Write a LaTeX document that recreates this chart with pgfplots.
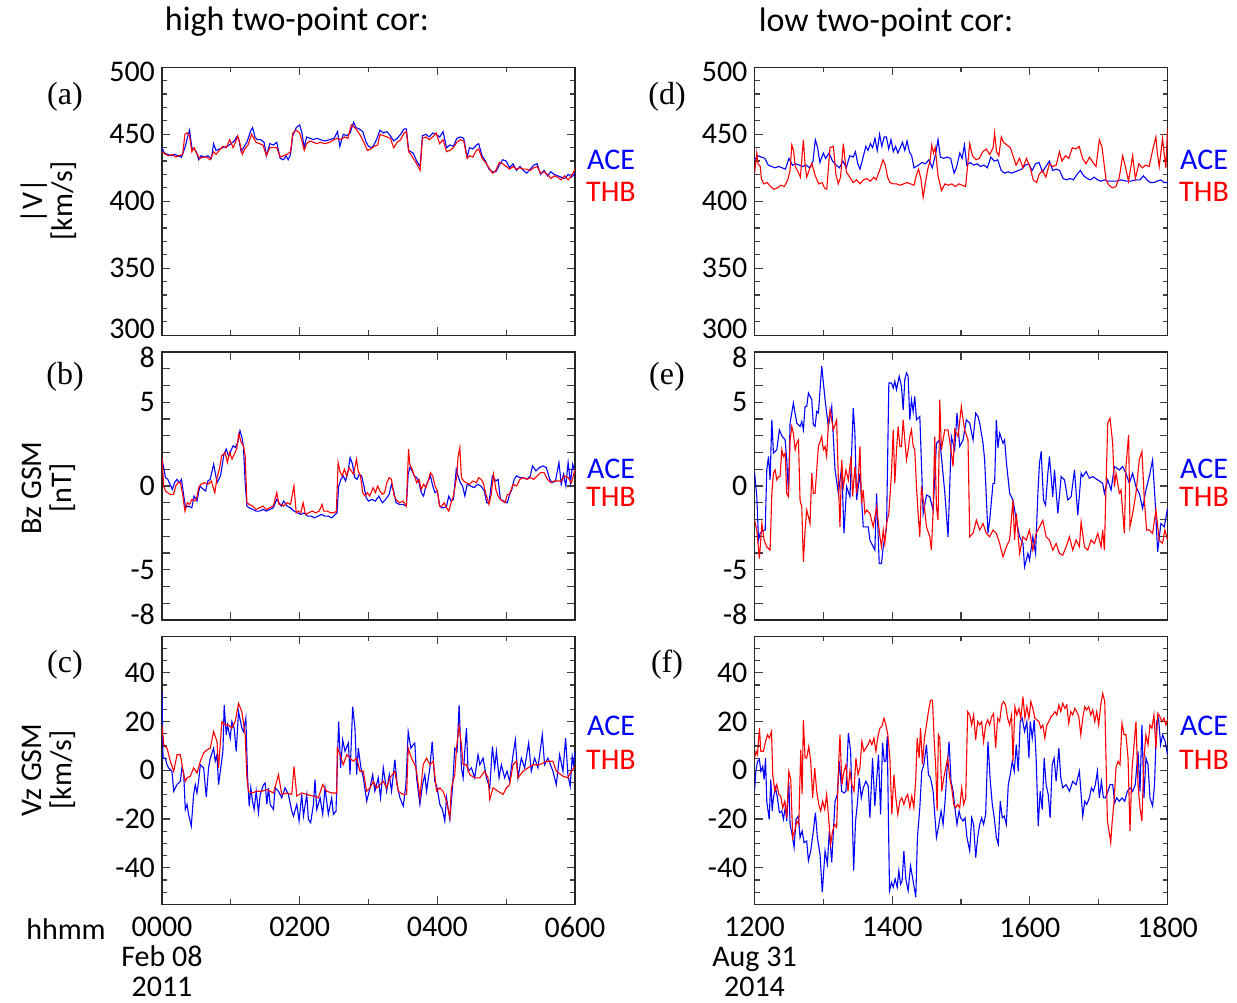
\documentclass[border=0pt]{standalone}
\usepackage{fontspec}
\setmainfont{Carlito}
\newfontfamily\seriffont{Liberation Serif}
\usepackage{pgfplots}
\pgfplotsset{compat=1.18}
\definecolor{ace}{RGB}{0,0,255}
\definecolor{thb}{RGB}{255,0,0}
\newcommand{\fs}{\fontsize{15}{15}\selectfont}
\newcommand{\up}[1]{\raisebox{3pt}[\height][\depth]{#1}}
\newcommand{\dn}[1]{\raisebox{-2.5pt}[\height][\depth]{#1}}
\pgfplotsset{
  panel/.style={scale only axis, width=206.5pt, height=134pt, anchor=south west,
    axis line style={line width=0.6pt, black!85}, tick align=inside,
    major tick length=4pt, minor tick length=2.5pt,
    every tick/.style={line width=0.6pt, black!75},
    xmin=0, xmax=360, xtick={0,120,240,360}, minor xtick={60,180,300},
    ticklabel style={font=\fs}, clip=true},
  vpanel/.style={panel, ymin=300, ymax=500, ytick={300,350,400,450,500},
    yticklabels={\up{300},350,400,450,\dn{500}}, minor ytick={310,320,...,490}},
  bpanel/.style={panel, ymin=-8, ymax=8, ytick={-8,-5,0,5,8},
    yticklabels={\up{-8},-5,0,5,\dn{8}}, minor ytick={-7,-6,-4,-3,-2,-1,1,2,3,4,6,7}, minor tick length=4pt},
  wpanel/.style={panel, ymin=-55, ymax=55, ytick={-40,-20,0,20,40},
    yticklabels={-40,-20,0,20,40}, minor ytick={-50,-45,...,50},
    xticklabel style={align=center, font=\fontsize{15}{15}\selectfont, yshift=-3pt}},
  aceline/.style={color=ace, line width=0.55pt, no marks},
  thbline/.style={color=thb, line width=0.55pt, no marks},
}
\begin{document}
\begin{tikzpicture}
\useasboundingbox (0,0) rectangle (618.5pt,501pt);
% titles
\node[font=\fontsize{17}{17}\selectfont] at (148.5pt,490pt) {high two-point cor:};
\node[font=\fontsize{17}{17}\selectfont] at (443pt,490pt) {low two-point cor:};
% y labels
\node[font=\fs, rotate=90, align=center] at (24.5pt,400.5pt) {|V|\\{}[km/s]};
\node[font=\fs, rotate=90, align=center] at (24.5pt,257pt) {Bz GSM\\{}[nT]};
\node[font=\fs, rotate=90, align=center] at (24.5pt,116pt) {Vz GSM\\{}[km/s]};
% panel letters
\node[font=\seriffont\fontsize{16}{16}\selectfont] at (32.5pt,452.5pt) {(a)};
\node[font=\seriffont\fontsize{16}{16}\selectfont] at (32.5pt,312.5pt) {(b)};
\node[font=\seriffont\fontsize{16}{16}\selectfont] at (32.5pt,168.5pt) {(c)};
\node[font=\seriffont\fontsize{16}{16}\selectfont] at (333.5pt,452.5pt) {(d)};
\node[font=\seriffont\fontsize{16}{16}\selectfont] at (333.5pt,312.5pt) {(e)};
\node[font=\seriffont\fontsize{16}{16}\selectfont] at (333.5pt,168.5pt) {(f)};
% ACE / THB labels
\foreach \xx in {305.5pt,602pt}{
  \node[font=\fs, text=ace] at (\xx,421pt) {ACE};
  \node[font=\fs, text=thb] at (\xx,405pt) {THB};
  \node[font=\fs, text=ace] at (\xx,266.5pt) {ACE};
  \node[font=\fs, text=thb] at (\xx,252.5pt) {THB};
  \node[font=\fs, text=ace] at (\xx,138pt) {ACE};
  \node[font=\fs, text=thb] at (\xx,121pt) {THB};
}
\node[font=\fs] at (33pt,36.5pt) {hhmm};

% ---------------- (a)
\begin{axis}[vpanel, at={(81pt,333.35pt)}, xticklabels={}]
\addplot[aceline] coordinates {(0,440)(2,436)(5,435)(8,434)(11,435)(14,434)(17,433)(20,440)(22,447)(24,453)(26,440)(28,439)(30,437)(32,431)(34,434)(37,433)(40,434)(43,432)(45,443)(47,438)(50,439)(53,440)(57,441)(60,443)(63,445)(65,448)(67,446)(69,437)(71,440)(74,444)(77,452)(79,455)(81,448)(83,446)(86,446)(89,444)(91,434)(94,443)(97,442)(100,444)(103,432)(106,431)(108,434)(110,431)(112,435)(114,449)(117,455)(120,457)(122,451)(124,440)(126,448)(129,447)(132,446)(135,447)(138,446)(142,445)(146,446)(150,447)(153,452)(155,441)(158,450)(161,449)(164,451)(167,459)(169,455)(172,454)(175,452)(178,444)(180,441)(182,440)(184,441)(187,446)(190,453)(193,451)(196,452)(199,449)(202,445)(205,447)(208,450)(211,454)(213,454)(215,438)(217,437)(219,436)(222,430)(225,426)(227,449)(230,450)(233,448)(236,451)(239,450)(242,448)(245,452)(248,440)(251,442)(254,441)(257,447)(260,448)(263,447)(266,433)(268,440)(271,439)(274,442)(276,443)(279,434)(282,430)(285,424)(288,422)(291,422)(294,427)(297,431)(300,430)(303,425)(306,428)(309,423)(312,426)(315,423)(318,421)(321,424)(324,427)(327,428)(330,420)(333,423)(336,419)(339,422)(342,420)(345,419)(348,418)(351,417)(354,420)(357,418)(360,421)};
\addplot[thbline] coordinates {(0,437)(3,435)(6,434)(9,435)(12,433)(15,434)(18,435)(20,450)(22,451)(24,449)(26,437)(28,440)(30,436)(33,432)(36,433)(39,433)(42,431)(45,437)(47,435)(50,438)(53,441)(56,440)(59,446)(62,440)(64,444)(66,449)(68,443)(70,435)(72,439)(75,442)(78,450)(80,447)(82,444)(85,443)(88,442)(91,434)(94,440)(97,440)(100,440)(103,433)(106,434)(109,435)(112,437)(114,451)(117,453)(120,451)(122,445)(124,438)(126,443)(129,445)(132,444)(135,443)(138,444)(142,443)(146,444)(150,446)(153,447)(156,446)(159,448)(162,447)(165,457)(167,456)(170,453)(173,449)(176,444)(179,438)(182,439)(185,441)(188,442)(190,450)(193,449)(196,448)(199,447)(202,440)(205,444)(208,446)(211,451)(213,452)(215,437)(217,435)(219,432)(222,428)(225,423)(227,447)(230,448)(233,446)(236,448)(239,451)(242,443)(245,446)(248,437)(251,438)(254,440)(257,444)(260,446)(263,445)(266,432)(268,434)(271,433)(274,438)(276,439)(279,432)(282,429)(285,425)(288,421)(291,423)(294,429)(297,428)(300,426)(303,424)(306,426)(309,424)(312,425)(315,424)(318,424)(321,423)(324,425)(327,426)(330,421)(333,422)(336,420)(339,417)(342,419)(345,418)(348,416)(351,419)(354,416)(357,419)(360,424)};
\end{axis}

% ---------------- (d)
\begin{axis}[vpanel, at={(377.25pt,333.35pt)}, xticklabels={}]
\addplot[aceline] coordinates {(0,431)(3,434)(6,433)(9,432)(12,427)(15,426)(18,425)(21,426)(24,425)(27,424)(30,432)(33,427)(36,428)(39,427)(42,426)(45,427)(48,425)(51,430)(53,446)(55,440)(57,429)(60,436)(62,432)(65,436)(68,430)(71,427)(74,425)(77,430)(80,425)(83,434)(86,433)(88,437)(90,428)(92,424)(95,434)(97,441)(99,438)(101,443)(103,440)(105,447)(107,438)(109,450)(111,441)(113,448)(115,448)(117,439)(119,446)(121,437)(123,441)(125,436)(127,440)(129,444)(131,438)(133,445)(135,437)(137,434)(139,425)(141,426)(143,427)(146,429)(149,428)(152,431)(155,425)(158,436)(160,446)(162,433)(165,432)(168,433)(171,432)(174,421)(176,425)(179,436)(181,432)(183,442)(185,427)(188,429)(191,427)(194,428)(197,426)(200,427)(203,425)(206,433)(209,430)(212,431)(215,423)(218,421)(221,422)(224,421)(227,422)(230,423)(233,424)(236,427)(239,428)(242,423)(245,428)(248,429)(251,422)(254,426)(257,430)(260,423)(263,424)(266,423)(269,417)(272,416)(275,417)(278,416)(281,420)(284,423)(287,419)(290,417)(293,416)(296,418)(299,416)(302,415)(305,416)(308,415)(312,415)(316,415)(320,416)(324,415)(328,415)(332,416)(336,416)(339,419)(342,416)(345,414)(348,414)(351,415)(354,416)(357,414)(360,414)};
\addplot[thbline] coordinates {(0,421)(1,428)(2,436)(3,428)(5,426)(6,417)(8,413)(11,414)(14,411)(17,409)(20,410)(23,412)(26,411)(29,416)(31,423)(32.5,442)(34,438)(35.5,426)(38,422)(40,418)(42.6,446)(44,428)(45.5,418)(48,424)(50,428)(53,419)(56,413)(59,414)(61,410)(63,409)(65.8,440)(68.7,441)(71,420)(73,413)(75,418)(77.4,443)(80,422)(83,418)(86,414)(89,416)(92,413)(95,416)(98,417)(101,415)(104,418)(106,416)(109,423)(112,431)(114,427)(116,418)(118,414)(121,413)(124,413)(127,412)(130,413)(133,414)(136,413)(139,412)(141,419)(143,424)(145,417)(147,403)(149,414)(151,424)(153,430)(154.5,442)(156,436)(157.5,440)(160,419)(163,408)(166,413)(169,412)(172,413)(175,411)(178,413)(181,412)(184,411)(187.6,443)(190,434)(193,431)(196,432)(199,437)(202,439)(205,435)(208,440)(209.3,451)(211,437)(213,434)(215.1,448)(217,444)(220,442)(223,440)(225,435)(228,427)(231,432)(234,425)(237,432)(240,426)(243,416)(246,414)(248,420)(251,423)(254,418)(257,428)(260,426)(263,427)(265.8,437)(268,430)(271,434)(274,432)(277,440)(280,439)(283,441)(286,432)(289,428)(292,433)(295,429)(297.7,426)(300.6,446)(303,440)(306.4,416)(309,412)(312,410)(315,411)(318,418)(320.9,434)(323,427)(326,415)(329.6,434)(332,417)(335,428)(338,425)(341,427)(344,426)(347,438)(349.9,448)(351,437)(352.8,426)(355.7,447)(357,436)(358.6,425)(360,454)};
\end{axis}

% ---------------- (b)
\begin{axis}[bpanel, at={(81pt,191pt)}, xticklabels={}]
\addplot[aceline] coordinates {(0,1.6)(1.5,1.1)(3,0.5)(5,0.4)(7,0.1)(9,-0.2)(11,0.2)(13,0.4)(15,0.2)(17,0.4)(19,-0.6)(20.5,-1.3)(23,-1.2)(26,-1.3)(28,-0.6)(30.5,-0.9)(33,0.0)(36,-0.2)(38,-0.3)(40,0.3)(42,0.4)(45,1.3)(48,0.2)(51,0.6)(54,1.9)(56,2.2)(58,1.8)(60,2.1)(62,2.4)(64,2.3)(66,2.6)(68,3.3)(70,2.8)(71,2.3)(72.5,0.2)(74,-1.2)(76,-1.3)(79,-1.4)(82,-1.5)(85,-1.5)(88,-1.4)(91,-1.5)(94,-1.4)(97,-1.3)(100,-0.8)(102,-1.0)(104,-1.2)(106,-0.9)(109,-1.2)(112,-1.3)(115,-1.5)(118,-1.6)(121,-1.7)(124,-1.6)(127,-1.8)(130,-1.8)(133,-1.9)(136,-1.8)(139,-1.7)(142,-1.8)(145,-1.8)(148,-1.9)(151,-1.7)(152.5,-1.6)(154,0.0)(156,0.4)(158,0.6)(160,0.3)(162,0.8)(164,1.7)(166,1.3)(168,0.5)(170,0.4)(172,0.7)(174,0.6)(176,0.0)(178,-0.7)(180,-0.9)(183,-0.8)(186,-0.9)(189,-0.6)(192,-1.0)(195,-0.8)(198,-0.5)(200,0.1)(202,-0.3)(204,-1.0)(207,-1.1)(210,-1.1)(213,-1.2)(214.6,0.7)(216,1.1)(218,0.9)(220,0.6)(222,0.5)(224,0.2)(226,-0.4)(228,-0.6)(230,0.0)(232,0.3)(234,0.6)(236,0.0)(238,-0.4)(240,-0.3)(242,-1.2)(244,-1.3)(246,-1.3)(248,-1.2)(250,-0.6)(252,-0.9)(254,-0.8)(256.5,1.0)(258,0.6)(260,0.2)(262,0.0)(264,-0.6)(266,0.1)(269,0.0)(272,-0.1)(275,0.1)(278,0.0)(281,-0.3)(283,-1.0)(285,-1.0)(288,0.6)(291,0.3)(293,0.4)(295,-0.8)(298,-0.9)(301,-1.0)(303,-0.5)(305,-0.2)(307,0.4)(309,0.6)(312,0.5)(315,0.5)(318,0.4)(321,0.6)(323,1.2)(326,0.9)(329,1.1)(332,1.2)(335,1.1)(338,0.4)(340,0.2)(343,0.3)(346,1.4)(348,0.1)(350,0.7)(352,0.0)(354,1.4)(356,0.2)(358,1.3)(360,0.8)};
\addplot[thbline] coordinates {(0,1.7)(1.5,0.0)(3,-0.3)(5,-0.4)(7,-0.5)(10,-0.5)(12,0.0)(14,0.2)(16,0.2)(18,-0.5)(20,-1.5)(22,-1.0)(24,-1.1)(26,-0.8)(28,-0.9)(30,-0.8)(32,-0.1)(34,0.1)(37,0.2)(40,0.1)(43,0.3)(46,-0.4)(48,0.5)(50,1.0)(52,1.8)(55,2.0)(57,1.4)(59,2.0)(61,1.6)(63,1.9)(65,2.2)(67,3.1)(69,2.6)(71,2.4)(72.5,1.8)(74,-1.0)(76,-1.1)(79,-1.2)(82,-1.4)(85,-1.3)(88,-1.2)(91,-1.4)(94,-1.3)(97,-1.2)(100,-0.4)(102,-1.1)(104,-1.1)(106,-1.2)(109,-1.0)(112,-1.1)(115,0.0)(117,-1.6)(119,-1.5)(121,-1.6)(123,-1.0)(125,-1.7)(128,-1.6)(131,-1.5)(134,-1.6)(137,-1.5)(139.5,-1.1)(141,-1.5)(144,-1.5)(147,-1.6)(150,-1.6)(152,-1.5)(153.5,1.4)(155,0.9)(157,0.6)(159,1.0)(161,0.6)(163,1.1)(165,0.9)(167,0.7)(169.5,1.6)(171,0.9)(173,0.6)(175,-0.4)(177,-0.6)(179,-0.4)(181,-0.6)(184,-0.1)(186,-0.4)(188,0.0)(190,-0.3)(192,-0.5)(194,-0.4)(196,0.2)(198,0.5)(200,0.4)(202,-0.5)(204,-0.8)(207,-1.0)(210,-0.9)(213,-1.2)(214.9,2.2)(216,1.3)(218,1.0)(220,0.6)(222,0.2)(224,0.4)(226,-0.2)(228,0.1)(230,-0.1)(232,0.3)(234,0.8)(236,0.6)(238,0.0)(240,-0.3)(242,-1.2)(244,-1.2)(246,-1.0)(248,-1.3)(250,-1.5)(252,-1.0)(254,-0.6)(255.5,0.0)(257,0.6)(258,1.7)(259.6,2.3)(261,0.5)(263,0.3)(265,0.2)(268,0.1)(271,0.3)(274,0.2)(276,0.5)(278,0.4)(280,0.2)(282,-0.4)(285,-1.1)(287,-0.5)(289,0.7)(291,-0.2)(293,-0.6)(295,-0.8)(297,-0.9)(299,-1.0)(301,-0.5)(303,-0.5)(306,0.1)(309,0.0)(312,0.4)(315,0.5)(318,0.4)(321,0.5)(324,0.4)(327,0.6)(330,0.8)(333,0.8)(336,0.4)(339,0.2)(342,0.3)(345,0.3)(348,0.3)(351,0.6)(354,0.5)(357,0.2)(360,1.0)};
\end{axis}

% ---------------- (e)
\begin{axis}[bpanel, at={(377.25pt,191pt)}, xticklabels={}]
\addplot[aceline] coordinates {(0,0.86)(2,-0.64)(3.5,-3.23)(4.9,-2.83)(7,-2.7)(9.3,-2.63)(10.7,0.96)(12.2,1.76)(13.6,0.36)(15.1,3.95)(16.5,1.96)(19.4,2.16)(21.7,3.35)(23.8,3.0)(26.7,2.75)(28.1,1.56)(29.6,-0.44)(31,3.75)(33.9,4.95)(36.8,3.75)(39.7,3.55)(41.2,3.85)(42.6,3.35)(44.1,4.75)(45.5,4.75)(47,5.55)(49.9,5.15)(51.3,3.65)(52.8,3.55)(54.2,4.45)(55.7,4.35)(58.6,7.15)(61.5,5.15)(64.4,3.55)(67.3,4.75)(70.2,0.96)(73.1,-0.44)(76,1.16)(78,-2.83)(80.3,-0.04)(83.2,-0.64)(86.1,4.65)(87.5,3.15)(89,-0.84)(91.9,0.76)(94.8,-2.44)(97.7,-2.44)(99.1,-2.44)(100.6,-3.23)(102,-3.43)(104.9,-3.83)(106.4,-0.44)(108.7,-4.63)(110.7,-4.63)(112.2,-3.63)(115.1,-2.44)(117.1,6.15)(119.4,6.15)(120.9,5.85)(122.3,6.25)(123.8,5.75)(126.1,6.55)(128.1,5.95)(129.6,4.55)(131,6.35)(132.5,6.75)(133.9,6.55)(135.4,3.95)(136.8,5.15)(138.3,4.45)(139.7,5.35)(141.2,3.95)(144.1,4.15)(145.5,1.36)(147,-1.64)(149.9,-0.54)(152.8,-0.64)(155.7,-1.44)(158.6,2.55)(161.5,2.75)(162.9,1.76)(165.8,-0.34)(168.7,-3.03)(171.6,2.95)(174.5,2.16)(176.5,4.35)(178.9,2.36)(181.8,2.75)(184.7,3.95)(187.6,3.75)(190.5,2.75)(192.8,4.35)(194.8,4.15)(196.3,3.75)(199.2,2.55)(200.6,1.56)(203.5,-2.83)(205,-2.04)(207.9,0.16)(209.3,0.16)(210.8,3.95)(212.2,2.26)(213.7,3.15)(216.6,2.55)(218,2.75)(219.5,1.46)(222.4,-0.44)(225.3,-0.84)(228.2,-2.04)(231.1,-3.03)(234,-3.43)(235.4,-4.83)(238.3,-4.03)(239.7,-4.43)(242.6,-3.03)(245,-4.03)(247,-0.44)(248.4,1.36)(249.9,2.06)(251.9,-0.84)(253.7,-1.14)(255.7,0.76)(257.1,1.76)(260,-0.64)(261.5,0.96)(264.4,-1.64)(267.3,0.56)(270.2,0.36)(273.1,-0.84)(276,-0.64)(278.9,0.96)(281.8,-1.74)(284.7,0.76)(286.1,0.56)(289,0.86)(291.9,0.46)(294.8,0.56)(299.2,0.36)(303.5,0.16)(305,-0.44)(307.9,0.36)(310.8,-0.24)(313.7,1.16)(318,0.96)(320.9,1.16)(323.8,0.76)(326.7,0.16)(329.6,0.76)(332.5,-0.04)(335.4,-0.44)(338.3,-1.34)(341.2,-0.24)(344.1,0.56)(347,1.56)(349.3,-1.04)(351.4,-3.93)(354.2,-2.24)(357.2,-2.44)(360,-1.34)};
\addplot[thbline] coordinates {(0,-2.04)(2,-2.63)(4.3,-4.33)(6.4,-2.24)(8.4,-3.23)(10.7,-3.63)(13.6,-3.83)(15.1,-0.44)(16.5,0.76)(18,0.96)(19.4,0.36)(20.9,0.56)(22.3,0.56)(23.8,2.16)(25.2,1.76)(26.7,1.96)(28.1,-0.44)(29.6,-0.64)(31,2.75)(32.5,3.55)(33.9,3.15)(35.4,2.16)(36.8,2.55)(38.3,2.75)(39.7,-0.84)(41.2,-1.24)(42.6,-4.53)(44.1,-2.63)(45.5,-1.44)(47,-1.84)(48.4,-2.24)(49.9,0.76)(51.3,-0.44)(52.8,-0.44)(55.7,2.36)(58.6,2.95)(60,2.16)(61.5,2.36)(62.9,1.76)(64.4,3.75)(65.8,4.55)(68.7,3.35)(71.6,3.95)(73.1,0.36)(74.5,-2.44)(76,1.56)(77.4,-0.04)(79.7,0.96)(81.8,0.36)(84.1,1.76)(85.5,-0.64)(87.5,1.16)(89,-0.44)(90.4,0.36)(91.9,2.36)(93.3,-1.04)(94.8,-0.24)(96.2,-1.64)(97.7,-1.44)(100.6,-1.64)(103.5,-2.44)(106.4,-1.24)(109.3,-3.03)(110.7,-3.63)(112.2,-2.63)(113.6,-3.43)(115.1,-2.24)(117.1,-1.64)(119.4,0.76)(120.9,3.35)(122.3,0.16)(123.8,2.16)(125.2,3.55)(126.7,2.36)(128.1,2.36)(129.6,3.95)(131,2.75)(132.5,1.56)(133.9,2.16)(135.4,2.95)(136.8,3.35)(138.3,2.36)(139.7,2.16)(141.2,-0.04)(142.6,-1.64)(144.1,-3.03)(145.5,-0.04)(147,-0.84)(148.4,-1.44)(149.9,-2.44)(152.8,-3.03)(154.2,-3.83)(155.7,-1.44)(157.1,2.95)(158.6,-1.24)(160,-2.04)(161.5,5.15)(162.9,2.16)(165.8,3.35)(168.7,3.35)(171.6,1.96)(173.1,1.16)(174.5,3.35)(177.4,2.95)(180.3,4.75)(181.8,3.95)(183.2,3.35)(186.1,2.75)(187.6,-3.03)(190.5,-2.83)(193.4,-2.04)(196.3,-2.63)(199.2,-2.24)(202.1,-2.83)(205,-3.03)(207.9,-2.63)(210.8,-2.83)(213.7,-3.43)(216.6,-4.23)(219.5,-3.63)(222.4,-3.23)(225.3,-0.84)(226.7,-3.23)(228.2,-1.64)(231.1,-4.03)(234,-3.03)(236.8,-3.23)(239.7,-2.63)(242.6,-3.83)(245.5,-2.83)(248.4,-2.44)(251.3,-2.04)(254.2,-3.03)(257.1,-3.23)(260,-3.83)(262.9,-3.43)(265.8,-4.03)(268.7,-4.13)(271.6,-3.63)(274.5,-3.03)(277.4,-3.83)(280.3,-3.23)(283.2,-3.63)(284.7,-2.14)(287.6,-3.63)(290.5,-3.83)(293.4,-3.23)(296.3,-3.43)(299.2,-2.83)(302.1,-3.63)(303.5,-2.63)(305,-3.83)(306.4,-0.04)(307.9,3.75)(309.9,4.05)(312.2,2.55)(313.7,-0.04)(315.1,0.76)(318,-0.44)(319.5,-0.24)(322.4,-2.83)(323.8,1.16)(326.1,3.05)(327.3,-2.44)(329.6,-1.64)(332.5,-0.44)(335.4,1.56)(337.7,2.06)(339.8,-0.84)(341.8,-2.63)(344.1,-2.63)(347,-2.83)(349.9,-1.44)(352.8,-3.23)(355.7,-3.43)(357.7,-2.63)(360,-3.23)};
\end{axis}

% ---------------- (c)
\begin{axis}[wpanel, at={(81pt,48.85pt)}, xticklabels={{0000\\Feb 08\\2011},0200,0400,0600}]
\addplot[aceline] coordinates {(0,32.2)(0.9,5)(2.9,5)(4.4,2.3)(5.8,1)(8.7,-0.4)(10.2,-8.6)(13.1,-5.9)(16,-4.5)(17.4,1)(18.9,-1.1)(20.3,-16.1)(21.8,-14)(23.2,-18.1)(25.5,-22.9)(27.6,-9.9)(29,-5.9)(30.5,-9.3)(31.9,-4.5)(33.4,2.3)(36.3,1)(38.6,-11)(40.6,1)(42.1,5)(45,9.1)(46.4,3.7)(47.9,6.4)(49.3,-5.9)(50.8,-0.4)(53.1,7.8)(54.2,26.8)(56,14.6)(57.1,18.6)(59.5,13.2)(60.9,20)(62.9,17.3)(64.7,7.8)(66.7,24.1)(69.6,17.3)(71,15.9)(73.1,21.4)(74.5,-1.8)(76,-14.7)(77.4,-7.2)(78.9,-12.7)(80.3,-16.1)(82.1,-8.6)(84.1,-17.4)(85.6,-9.9)(88.5,-5.9)(89.9,-5.2)(91.4,-14)(92.8,-7.2)(94.3,-14)(97.2,-16.1)(98.6,-7.2)(101.5,-8.6)(104.4,-11.3)(107.3,-7.2)(110.2,-9.9)(113.1,-16.7)(114.6,-18.8)(117.5,-14)(119.5,-20.8)(121.8,-9.9)(123.3,-18.8)(126.2,-9.9)(127.6,-20.1)(129.6,-21.5)(132,-14)(133.4,-3.8)(134.9,-16.1)(137.8,-11.3)(140.1,-18.1)(142.1,-7.2)(145,-18.1)(147.9,-11.3)(149.4,-18.1)(151.7,-16.7)(153.1,7.8)(154,20)(155.7,1)(157.5,12.5)(159.5,7.8)(162.4,11.2)(163.9,-1.8)(166.2,26.1)(168.2,17.3)(169.7,-1.8)(171.1,9.1)(173.4,1)(175.5,-3.1)(178.4,-12.7)(181.3,-7.2)(183.6,-1.8)(185.6,-8.6)(188.5,-3.1)(190.5,-11.3)(192.9,1)(195.8,-8.6)(198.1,-1.8)(200.1,-8.6)(203,4.4)(205,-5.9)(207.4,-11.3)(210.3,-14.7)(212.6,-5.9)(214.6,15.9)(216.9,9.1)(219,10.5)(220.4,11.2)(221.9,-3.1)(224.8,-14)(227.1,-5.9)(229.1,-1.8)(230.6,-8.6)(233.5,1)(235.5,11.8)(237.8,-4.5)(239.8,-7.2)(242.2,-14)(244.5,-16.1)(246.5,-20.8)(248,-11.3)(250.9,-20.1)(253.2,-7.2)(255.2,9.1)(257.2,7.8)(259,26.8)(261,1)(262.5,-3.1)(263.9,7.8)(265.4,17.3)(266.8,-0.4)(269.7,1)(272.6,-3.1)(275.5,6.4)(277,2.3)(279.9,5)(282.8,-3.1)(285.7,-7.2)(288,9.8)(290,1)(291.5,7.8)(293.8,-3.1)(295.8,2.3)(298.7,-3.1)(300.7,-0.4)(303,-4.5)(306,6.4)(308,12.5)(310.3,-3.1)(313.2,5)(316.1,1)(319.6,11.2)(321.9,-0.4)(324.8,5)(327.7,1)(331.5,14.6)(333.5,2.3)(336.4,5)(340.8,-0.4)(343.7,-5.9)(346.6,6.4)(349.5,-0.4)(351.8,13.2)(353.8,-1.8)(355.8,-6.5)(357.6,5.7)(358.7,2.3)(360,7.8)};
\addplot[thbline] coordinates {(0,18.6)(1.5,10.5)(4.4,9.1)(7.3,3.7)(10.2,-0.4)(13.1,6.4)(16,6.4)(18.9,-1.8)(20.3,-4.5)(21.8,-3.1)(24.7,-2.4)(27.6,1)(30.5,-1.1)(33.4,3.7)(36.3,7.1)(39.2,8.4)(42.1,9.1)(45,15.9)(47.9,11.8)(49.3,1)(52.2,20)(55.1,18.6)(58,18.6)(60.9,17.3)(63.8,20)(66.7,27.5)(69.6,24.1)(72.5,14.6)(74,-3.1)(75.4,-8.6)(78.3,-9.3)(82.7,-8.6)(87,-8.6)(91.4,-7.9)(97.2,-9.3)(101.5,-1.8)(104.4,-9.9)(108.8,-9.3)(113.1,-9.9)(115.1,1.6)(117.5,-10.6)(121.8,-9.3)(126.2,-9.9)(132,-10.6)(136.3,-11.3)(140.1,-5.9)(143.6,-8.6)(147.9,-9.3)(152.3,-9.3)(152.8,9.1)(155.2,6.4)(158,2.3)(161,6.4)(163.9,5)(166.8,3.7)(169.7,5)(172.6,-0.4)(175.5,-0.4)(178.4,-8.6)(181.3,-7.2)(184.2,-4.5)(187.1,-7.2)(190,-5.9)(192.9,-4.5)(195.8,-7.2)(198.7,-3.1)(203,-0.4)(205.9,-8.6)(210.3,-9.9)(213.2,-9.9)(214.6,9.1)(217.5,5)(220.4,2.3)(221.9,-0.4)(224.8,-11.3)(227.7,2.3)(230.6,5)(233.5,2.3)(236.4,3.7)(239.3,-8.6)(242.2,-7.2)(245,-8.6)(248,-12.7)(250.9,-19.5)(252.3,-7.2)(255.2,-1.8)(256.7,9.1)(259,18)(261,10.5)(262.5,2.3)(265.4,2.3)(268.3,-1.8)(272.6,-3.1)(277,-3.1)(281.3,-0.4)(284.2,-3.1)(285.7,-12)(288.6,-7.2)(292.9,-8.6)(297.3,-9.9)(300.2,-7.2)(303,-5.9)(306,2.3)(308.9,3.7)(310.3,-3.1)(314.7,-0.4)(319,1)(323.4,2.3)(329.2,2.3)(335,3.7)(340.8,3.7)(343.7,-0.4)(349.5,-2.4)(353.8,-3.1)(356.7,-0.4)(360,1.6)};
\end{axis}

% ---------------- (f)
\begin{axis}[wpanel, at={(377.25pt,48.85pt)}, xticklabels={{1200\\Aug 31\\2014},1400,1600,1800}]
\addplot[aceline] coordinates {(0,-8.6)(1.2,-0.4)(2.6,3.7)(4.3,4.4)(5.5,-0.4)(7.2,1.6)(8.4,-3.8)(9.6,5)(10.7,-12.7)(12.8,-20.1)(14.2,-3.8)(15.4,-16.7)(16.5,-11.3)(18.3,-7.2)(20,-11.3)(21.7,-17.4)(23.8,-16.7)(25.2,-20.1)(27,-14.7)(28.1,-20.8)(29.9,-4.5)(31,-22.2)(32.8,-26.3)(34.5,-31.7)(36.2,-20.1)(38.3,-18.8)(39.7,-27.6)(41.5,-24.9)(43.2,-29.7)(45.5,-29)(47,-37.1)(49,-33.1)(51.3,-24.9)(53.1,-17.4)(54.8,-27.6)(57.1,-34.4)(59.1,-50.1)(61.5,-33.1)(63.5,-38.5)(65.2,-24.9)(67.3,-37.8)(70.2,-12.7)(72.2,-9.9)(73.9,3.7)(76,-8.6)(78,-9.3)(79.7,-8.6)(81.8,15.2)(83.8,7.8)(84.9,-11.3)(86.4,-41.2)(88.1,-20.8)(89.6,-14)(91.3,-3.1)(93.1,-11.3)(94.8,-7.2)(97.1,-4.5)(99.1,-6.5)(100.6,-19.5)(102.9,5)(104.9,-14.7)(106.4,-4.5)(108.1,6.4)(109.9,-18.1)(111.6,11.2)(113.1,3.7)(114.5,3.7)(115.7,13.9)(116.8,-22.2)(117.7,-49.4)(119.4,-46)(120.9,-48)(122.6,-44.6)(124.4,-48)(125.8,-41.2)(127.3,-46.7)(128.7,-45.3)(130.2,-33.1)(131.9,-44.6)(133.9,-49.4)(136,-39.2)(137.7,-43.9)(140.6,-52.1)(142,-27.6)(144.1,-15.4)(145.8,-0.4)(147.6,2.3)(149.9,10.5)(151.6,-1.8)(153.4,-3.1)(155.7,-8.6)(157.1,-18.1)(158.6,-27.6)(160.3,-23.5)(162.6,-16.7)(164.4,-22.2)(166.1,-12.7)(167.9,1)(169.6,11.8)(171.3,-4.5)(173.1,-8.6)(174.8,-16.1)(176.5,-22.2)(178.3,-16.7)(179.7,-19.5)(181.8,-20.8)(183.5,-19.5)(185.2,-27.6)(187.6,-33.1)(189.3,-19.5)(191,-22.2)(192.8,-35.8)(194.5,-27.6)(196.3,-22.2)(198,-19.5)(199.7,-22.2)(201.5,-18.1)(203.5,11.8)(205.5,-4.5)(207.3,-14)(209,-19.5)(210.8,-27.6)(212.5,-30.3)(214.2,-12.7)(216,-19.5)(217.7,-18.8)(219.5,-22.2)(221.2,-5.9)(222.9,-1.8)(224.7,3.7)(226.4,-0.4)(228.2,10.5)(229.9,-0.4)(231.6,20)(233.4,21.4)(235.4,15.9)(237.4,20)(239.2,5)(240.3,20)(242.1,13.2)(243.8,20.7)(245.5,5)(247.3,-22.9)(249,-8.6)(250.8,-16.1)(252.5,5)(254.2,-5.9)(256,-9.9)(257.7,-19.5)(259.5,2.3)(261.2,5)(262.9,-4.5)(265.3,9.1)(267,-3.1)(268.7,-7.2)(271.6,-5.9)(274.5,-8.6)(277.4,-4.5)(280.3,-5.9)(283.2,-0.4)(286.1,-18.8)(287.9,-12.7)(289.6,-14)(291.9,-11.3)(293.7,-7.2)(295.4,-8.6)(297.1,-5.9)(298.9,-0.4)(300.6,-11.3)(302.4,-4.5)(304.1,-11.3)(305.8,-11.3)(307.6,-9.3)(309.9,-5.9)(312.2,-5.9)(314,-13.3)(315.7,-11.3)(318,-12.7)(320.3,-11.3)(322.7,-12.7)(325,-8.6)(327.3,-7.2)(329.6,-8.6)(331.9,-5.9)(334.3,7.8)(336,-8.6)(337.7,18.6)(339.5,-11.3)(341.2,5)(343,2.3)(344.7,-11.3)(347,-14.7)(348.7,-5.9)(350.5,20)(352.2,21.4)(354,10.5)(355.7,14.6)(358,11.8)(360,6.4)};
\addplot[thbline] coordinates {(0,5)(1.4,7.8)(2.6,6.4)(4.3,17.3)(5.5,7.8)(7.8,7.8)(9.6,11.8)(11.3,14.6)(13,13.2)(14.8,15.9)(15.9,-1.8)(17.7,-8.6)(19.4,-5.9)(21.2,-9.9)(22.9,-10.6)(24.6,-15.4)(26.4,-12.7)(28.1,-19.5)(29.9,-0.4)(31.6,-3.8)(33.3,-27.6)(35.1,-24.9)(36.8,-20.8)(38.6,-22.2)(40.3,8.4)(41.5,-9.9)(42.6,20.7)(44.1,5)(45.5,5)(47.3,9.8)(49,3.7)(50.7,-11.3)(52.5,1)(54.2,-8.6)(56,-14)(57.7,-16.7)(59.4,-12.7)(61.2,-16.1)(62.9,-9.9)(64.6,-19.5)(66.4,-30.3)(68.1,-24.9)(69.9,-22.2)(71.6,-23.5)(73.3,2.3)(74.5,14.6)(76.2,-5.9)(78,-0.4)(79.7,2.3)(81.5,-8.6)(83.2,-0.4)(84.9,-5.9)(86.7,-8.6)(88.4,5)(90.2,-1.8)(91.9,1)(93.6,11.8)(95.4,7.8)(97.1,9.1)(98.9,10.5)(100.6,12.5)(102.3,10.5)(104.1,13.2)(105.8,7.8)(107.6,13.9)(109.3,17.3)(111,18)(112.8,21.4)(114.5,18.6)(116.2,14.6)(118,5)(119.7,-18.1)(121.5,-1.8)(123.2,-11.3)(124.9,-18.1)(126.7,-12.7)(128.4,-11.3)(130.2,-14)(131.9,-11.3)(133.6,-9.9)(135.4,-15.4)(137.1,-10.6)(138.9,-15.4)(140.6,-3.1)(141.8,13.2)(143.5,5)(144.7,17.3)(146.4,2.3)(148.1,13.2)(149.9,18.6)(151.6,24.1)(153.4,28.8)(155.1,28.8)(156.8,10.5)(158,1)(159.2,-16.7)(160.3,14.6)(161.5,13.2)(163.2,-8.6)(165,-3.1)(166.7,1)(168.4,5)(170.2,-3.1)(171.9,-7.2)(173.7,-14)(175.4,-15.4)(177.1,-14)(178.9,-15.4)(180.6,-7.2)(182.3,-14)(184.1,-11.3)(185.8,24.1)(187.6,22.7)(189.3,18.6)(191,22.7)(192.8,12.5)(194.5,20)(196.3,18.6)(198,20)(199.7,11.8)(201.5,18.6)(203.2,20.7)(205,18.6)(206.7,22)(208.4,23.4)(210.2,9.1)(211.9,21.4)(213.7,20)(215.4,26.8)(217.1,28.2)(218.9,26.8)(220.6,21.4)(222.4,18.6)(224.1,22.7)(225.3,3.7)(227,26.1)(228.7,22.7)(230.5,25.4)(232.2,21.4)(234,30.2)(235.7,21.4)(237.4,26.1)(239.2,21.4)(240.9,28.2)(242.6,25.4)(244.4,21.4)(246.1,20.7)(247.9,20)(249.6,17.3)(251.3,18.6)(253.1,13.2)(254.8,18.6)(256.6,20)(258.3,22)(260,22.7)(261.8,24.1)(263.5,22.7)(265.3,26.8)(267,24.1)(268.7,27.5)(270.5,25.4)(272.2,26.8)(273.9,19.3)(275.7,24.1)(277.4,22.7)(279.2,25.4)(280.9,24.1)(282.7,22)(284.4,14.6)(286.1,21.4)(287.9,26.1)(289.6,24.8)(291.3,26.1)(293.1,22.7)(294.8,24.8)(296.6,20)(298.3,24.1)(300,18.6)(301.8,26.8)(303.5,31.6)(305.3,28.2)(306.4,5)(307.6,-20.8)(309.3,-25.6)(310.5,-29.7)(311.6,-22.2)(313.4,-12.7)(315.1,1)(316.9,3.7)(318.6,2.3)(320.3,19.3)(322.1,14.6)(323.8,14.6)(325.6,5)(327.3,-24.9)(329,-0.4)(330.8,10.5)(332.5,20)(334.3,-5.9)(336,-15.4)(337.7,-20.8)(339.5,5)(341.2,14.6)(343,10.5)(344.7,18.6)(346.4,17.3)(348.2,22.7)(349.9,9.1)(351.6,23.4)(353.4,22)(355.1,20)(356.9,21.4)(358.6,18.6)(360,20.7)};
\end{axis}
\end{tikzpicture}
\end{document}
